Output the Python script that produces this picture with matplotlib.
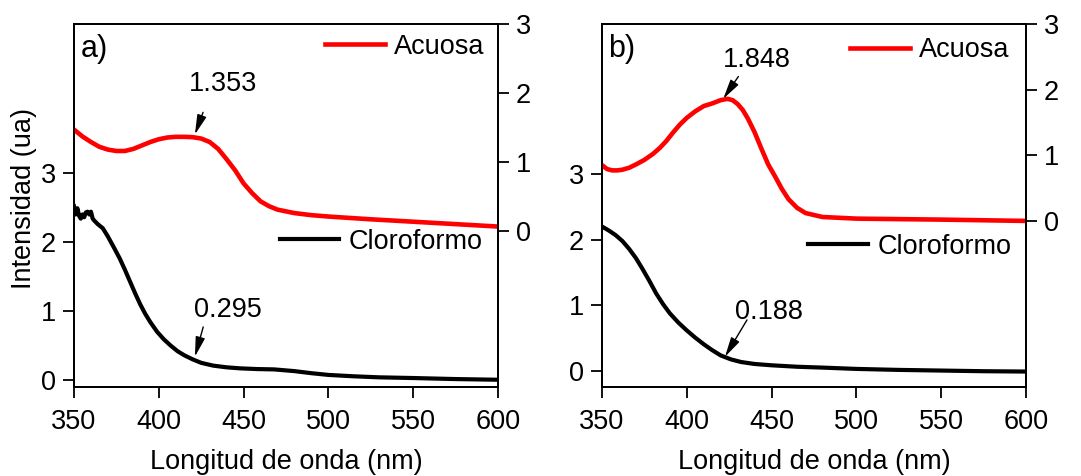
import numpy as np
import matplotlib
matplotlib.use('Agg')
import matplotlib.pyplot as plt

plt.rcParams['font.family'] = ['Liberation Sans', 'DejaVu Sans']
plt.rcParams['font.size'] = 19.5

# a) espectros
wl_a_clo = [350, 351, 352, 353, 354, 355, 356, 357, 358, 359, 360, 361, 362, 364, 367, 370,
            374, 377, 380, 383, 386, 389, 392, 395, 399, 403, 407, 411, 415, 420, 425, 432,
            440, 448, 458, 468, 480, 490, 500, 515, 530, 550, 575, 600]
ab_a_clo = [2.52, 2.40, 2.49, 2.38, 2.34, 2.40, 2.36, 2.43, 2.44, 2.40, 2.44, 2.34, 2.31, 2.26,
            2.20, 2.08, 1.90, 1.76, 1.60, 1.43, 1.26, 1.10, 0.96, 0.84, 0.70, 0.59, 0.50, 0.42,
            0.36, 0.30, 0.25, 0.21, 0.185, 0.17, 0.16, 0.155, 0.13, 0.10, 0.075, 0.055, 0.04,
            0.03, 0.015, 0.005]
wl_a_acu = [350, 355, 360, 365, 370, 375, 380, 385, 390, 395, 400, 405, 410, 415, 420, 425,
            430, 435, 440, 445, 450, 455, 460, 465, 470, 480, 490, 500, 525, 550, 575, 600]
ab_a_acu = [1.47, 1.37, 1.29, 1.22, 1.18, 1.16, 1.16, 1.19, 1.24, 1.29, 1.33, 1.355, 1.365,
            1.365, 1.36, 1.34, 1.29, 1.19, 1.04, 0.88, 0.69, 0.55, 0.43, 0.36, 0.31, 0.26,
            0.23, 0.21, 0.17, 0.135, 0.10, 0.065]

# b) espectros
wl_b_clo = [350, 354, 358, 362, 366, 370, 374, 378, 382, 386, 390, 395, 400, 405, 410, 415,
            420, 426, 432, 440, 450, 465, 480, 500, 525, 550, 575, 600]
ab_b_clo = [2.20, 2.14, 2.07, 1.98, 1.86, 1.72, 1.55, 1.37, 1.18, 1.02, 0.88, 0.74, 0.62,
            0.51, 0.41, 0.32, 0.24, 0.18, 0.14, 0.11, 0.09, 0.068, 0.055, 0.035, 0.02, 0.01,
            0.0, -0.005]
wl_b_acu = [350, 353, 356, 359, 362, 366, 370, 375, 380, 384, 388, 392, 396, 400, 405, 410,
            415, 420, 424, 427, 430, 433, 436, 440, 444, 448, 452, 456, 460, 465, 470, 480,
            500, 550, 600]
ab_b_acu = [0.85, 0.79, 0.77, 0.77, 0.78, 0.81, 0.86, 0.93, 1.02, 1.11, 1.22, 1.35, 1.47,
            1.57, 1.67, 1.75, 1.79, 1.84, 1.86, 1.84, 1.78, 1.69, 1.56, 1.35, 1.10, 0.86,
            0.68, 0.49, 0.33, 0.20, 0.12, 0.06, 0.035, 0.02, 0.0]

etiquetas = ['a)', 'b)']
picos_acu = ['1.353', '1.848']
picos_clo = ['0.295', '0.188']

fig = plt.figure(figsize=(10.81, 4.76), dpi=100)
ax_a = fig.add_axes([74/1081, 1-387/476, 424/1081, 363/476])
ax_b = fig.add_axes([602/1081, 1-387/476, 424/1081, 363/476])

paneles = [
    (ax_a, wl_a_clo, ab_a_clo, wl_a_acu, ab_a_acu, (-0.1, 5.16), (-2.26, 3.0)),
    (ax_b, wl_b_clo, ab_b_clo, wl_b_acu, ab_b_acu, (-0.24, 5.28), (-2.53, 3.0)),
]
# (punta, cola, texto) en coordenadas de datos
flechas_acu = [((421.3, 1.40), (426.1, 1.72), (438, 2.13)),
               ((421.5, 1.86), (430.4, 2.20), (441.4, 2.45))]
flechas_clo = [((421.3, 0.34), (426.2, 0.77), (441, 1.01)),
               ((422.5, 0.22), (435.5, 0.78), (448.5, 0.90))]
leg_acu = [(0.969, 0.937), (0.962, 0.928)]
leg_clo = [(0.964, 0.40), (0.965, 0.386)]
estilo = '-|>,head_length=0.75,head_width=0.18'

for i, (ax, x1, y1, x2, y2, lim1, lim2) in enumerate(paneles):
    ax2 = ax.twinx()
    l1, = ax.plot(x1, y1, color='black', lw=3.0, label='Cloroformo')
    l2, = ax2.plot(x2, y2, color='#ff0000', lw=3.3, label='Acuosa')
    ax.set_xlim(350, 600)
    ax.set_ylim(*lim1)
    ax2.set_ylim(*lim2)
    ax.set_xticks([350, 400, 450, 500, 550, 600])
    ax.set_yticks([0, 1, 2, 3])
    ax2.set_yticks([0, 1, 2, 3])
    for a in (ax, ax2):
        for s in a.spines.values():
            s.set_linewidth(1.3)
        a.tick_params(direction='out', length=8, width=1.3, pad=5, labelsize=19.5)
    ax.tick_params(axis='x', pad=8)
    ax.set_xlabel('Longitud de onda (nm)', fontsize=19.5, labelpad=10)
    ax.text(0.015, 0.93, etiquetas[i], transform=ax.transAxes, fontsize=22,
            ha='left', va='center')

    tip, tail, txt = flechas_acu[i]
    ax2.annotate('', xy=tip, xytext=tail,
                 arrowprops=dict(arrowstyle=estilo, color='black', lw=1.0,
                                 mutation_scale=16, shrinkA=0, shrinkB=0))
    ax2.text(txt[0], txt[1], picos_acu[i], ha='center', va='center', fontsize=19.5)
    tip, tail, txt = flechas_clo[i]
    ax.annotate('', xy=tip, xytext=tail,
                arrowprops=dict(arrowstyle=estilo, color='black', lw=1.0,
                                mutation_scale=16, shrinkA=0, shrinkB=0))
    ax.text(txt[0], txt[1], picos_clo[i], ha='center', va='center', fontsize=19.5)

    ax2.legend(handles=[l2], loc='center right', bbox_to_anchor=leg_acu[i], frameon=False,
               borderpad=0, borderaxespad=0, handlelength=2.2, handletextpad=0.35, fontsize=19.5)
    ax.legend(handles=[l1], loc='center right', bbox_to_anchor=leg_clo[i], frameon=False,
              borderpad=0, borderaxespad=0, handlelength=2.2, handletextpad=0.35, fontsize=19.5)

ax_a.set_ylabel('Intensidad (ua)', fontsize=19.5)
ax_a.yaxis.set_label_coords(-0.088, 0.52)

fig.savefig('out.png', dpi=100)
